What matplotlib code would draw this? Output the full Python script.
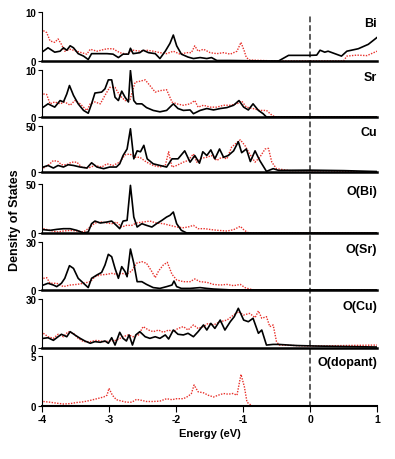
import matplotlib
matplotlib.use("Agg")
import matplotlib.pyplot as plt
from matplotlib.patches import ConnectionPatch

plt.rcParams['font.family'] = ['Liberation Sans Narrow', 'Liberation Sans', 'DejaVu Sans']
plt.rcParams['font.weight'] = 'bold'

#---------- datos ----------#
bi_k_e = [-3.98,-3.91,-3.81,-3.73,-3.68,-3.63,-3.58,-3.53,-3.46,-3.38,-3.31,-3.26,-3.03,-2.94,-2.86,-2.79,-2.71,-2.68,-2.64,-2.54,
          -2.49,-2.41,-2.31,-2.24,-2.16,-2.09,-2.04,-1.99,-1.92,-1.82,-1.74,-1.64,-1.54,-1.47,-1.39,-1.2,-0.9,-0.6,-0.47,-0.32,
          -0.1,0.0,0.1,0.15,0.22,0.27,0.35,0.47,0.55,0.72,0.87,1.0]
bi_k = [2.0,2.7,1.8,2.0,2.7,2.2,3.1,2.7,1.5,1.0,0.3,1.5,1.5,1.4,0.7,1.4,1.4,2.6,1.5,1.7,
        2.2,1.7,1.5,0.5,2.0,3.6,5.3,3.1,1.4,0.8,0.5,0.7,0.5,0.7,0.1,0.1,0.05,0.0,0.0,1.15,
        1.15,1.15,1.2,2.2,1.8,2.0,1.6,1.0,2.0,2.5,3.4,4.8]
bi_r_e = [-3.98,-3.93,-3.88,-3.81,-3.76,-3.71,-3.66,-3.58,-3.48,-3.41,-3.33,-3.28,-3.18,-3.03,-2.94,-2.84,-2.74,-2.64,-2.54,-2.44,
          -2.34,-2.24,-2.14,-2.04,-1.94,-1.84,-1.77,-1.72,-1.67,-1.59,-1.49,-1.39,-1.29,-1.19,-1.09,-1.03,-0.98,-0.95,-0.90,-0.5,
          0.5,0.55,0.7,0.85,1.0]
bi_r = [6.2,5.8,4.1,3.8,4.5,3.4,2.0,2.4,2.0,1.7,1.4,2.4,2.0,2.5,2.5,1.7,1.4,2.2,2.0,2.2,
        2.0,1.7,1.5,2.0,1.4,1.7,1.7,3.1,2.0,2.4,1.7,1.5,1.7,1.4,2.0,3.8,2.0,0.7,0.2,0.0,
        0.0,1.0,1.2,1.1,2.0]

sr_k_e = [-3.98,-3.91,-3.81,-3.73,-3.68,-3.63,-3.59,-3.53,-3.46,-3.38,-3.31,-3.26,-3.21,-3.11,-3.06,-3.01,-2.96,-2.91,-2.86,-2.81,
          -2.76,-2.71,-2.68,-2.63,-2.59,-2.51,-2.44,-2.34,-2.24,-2.14,-2.04,-1.97,-1.89,-1.79,-1.74,-1.64,-1.54,-1.44,-1.34,-1.24,
          -1.14,-1.06,-0.99,-0.92,-0.85,-0.77,-0.70,-0.65,1.0]
sr_k = [2.1,2.8,2.1,3.5,3.2,4.9,6.7,4.6,2.8,1.4,0.8,2.8,5.1,5.3,6.0,7.9,7.9,4.2,3.5,5.5,
        4.2,3.2,9.9,3.5,2.8,2.8,2.0,1.4,1.1,1.4,2.8,1.8,1.4,1.5,0.7,1.4,1.8,1.5,1.8,2.0,
        2.5,3.5,2.1,1.5,2.8,1.4,0.7,0.0,0.0]
sr_r_e = [-3.98,-3.93,-3.88,-3.81,-3.73,-3.66,-3.58,-3.51,-3.43,-3.33,-3.28,-3.21,-3.13,-3.06,-2.99,-2.91,-2.84,-2.76,-2.69,-2.61,
          -2.54,-2.46,-2.39,-2.31,-2.24,-2.14,-2.06,-1.99,-1.89,-1.79,-1.72,-1.67,-1.59,-1.49,-1.39,-1.29,-1.19,-1.09,-1.02,-0.95,
          -0.85,-0.75,-0.65,-0.57,-0.52,1.0]
sr_r = [4.9,4.8,2.8,3.2,2.8,3.2,2.5,3.5,2.8,1.4,2.8,3.2,2.8,4.6,6.3,6.3,4.6,3.5,3.5,7.4,
        7.6,7.9,6.7,5.3,5.6,5.8,3.2,2.8,2.5,2.8,3.5,2.1,2.5,2.1,2.1,2.5,2.5,2.8,3.4,2.1,
        1.8,1.4,1.4,0.4,0.0,0.0]

cu_k_e = [-3.98,-3.91,-3.83,-3.76,-3.68,-3.61,-3.53,-3.43,-3.33,-3.26,-3.18,-3.08,-2.99,-2.89,-2.84,-2.79,-2.73,-2.68,-2.63,-2.58,
          -2.53,-2.48,-2.43,-2.34,-2.24,-2.14,-2.06,-1.97,-1.87,-1.79,-1.72,-1.65,-1.60,-1.54,-1.48,-1.42,-1.35,-1.29,-1.22,-1.14,
          -1.07,-1.02,-0.95,-0.89,-0.82,-0.75,-0.65,-0.55,-0.47,0.0,0.5,1.0]
cu_k = [5.4,7.1,4.3,7.1,5.4,7.9,7.1,5.4,4.3,10,5.4,3.6,5.4,5.4,8.9,17.9,25,47,14.3,23,
        22,29,14.3,8.9,7.1,5.4,14.3,14.3,23,10.7,17.9,9.6,22,17.9,24,14.3,25,16,17.9,23,
        33,21,25,11.4,23,12.5,0.7,3.6,1.8,2.0,1.5,0.5]
cu_r_e = [-3.98,-3.91,-3.83,-3.76,-3.71,-3.63,-3.56,-3.48,-3.41,-3.31,-3.21,-3.11,-3.03,-2.94,-2.84,-2.76,-2.69,-2.61,-2.54,-2.44,
          -2.34,-2.24,-2.16,-2.11,-2.06,-1.99,-1.89,-1.82,-1.74,-1.69,-1.62,-1.54,-1.47,-1.39,-1.32,-1.24,-1.17,-1.09,-1.04,-0.97,
          -0.90,-0.82,-0.75,-0.67,-0.62,-0.57,-0.50,-0.3,0.3,0.6,1.0]
cu_r = [4.3,7.1,12.5,11.4,7.9,7.9,10.7,10.7,5.4,4.3,7.1,5.4,8.9,7.1,10.7,18.6,19.6,16,16,10.7,
        7.1,5.4,7.1,22,5.4,7.1,10.7,12.5,19.6,10.7,15,16,17.9,12.5,16,14.3,27,32,35,28.6,
        19.6,10.7,16,25,25.7,10.7,3.6,1.5,1.2,0.5,0.0]

obi_k_e = [-3.98,-3.88,-3.78,-3.68,-3.58,-3.48,-3.38,-3.31,-3.26,-3.21,-3.13,-3.03,-2.96,-2.89,-2.84,-2.79,-2.73,-2.68,-2.63,-2.58,
           -2.51,-2.44,-2.36,-2.29,-2.21,-2.14,-2.09,-2.04,-1.99,-1.92,-1.84,1.0]
obi_k = [3.4,2.7,3.7,4.4,4.4,2.7,0,1,9.5,12.2,10.2,11.2,12.2,7.8,4.4,12.2,12.9,48.6,16.3,6.1,
         9.5,7.8,6.1,9.5,12.9,16.3,18,21.4,9.5,2.7,0,0]
obi_r_e = [-3.98,-3.88,-3.78,-3.68,-3.58,-3.48,-3.38,-3.28,-3.21,-3.11,-3.03,-2.96,-2.89,-2.81,-2.74,-2.66,-2.59,-2.49,-2.39,-2.29,
           -2.19,-2.09,-1.99,-1.89,-1.82,-1.74,-1.67,-1.57,-1.47,-1.37,-1.24,-1.14,-1.04,-0.98,-0.92,1.0]
obi_r = [4.4,2.7,1,2,2.7,2,1,6.1,10.2,11.2,10.2,9.5,11.2,6.1,7.8,7.8,10.2,11.2,12.2,10.2,
         9.5,7.8,6.1,5.4,6.1,7.8,4.4,4.4,3.4,2.7,2,3.4,6.8,2.7,0.3,0]

osr_k_e = [-3.98,-3.91,-3.83,-3.78,-3.71,-3.66,-3.59,-3.53,-3.46,-3.38,-3.31,-3.26,-3.18,-3.11,-3.06,-3.01,-2.96,-2.91,-2.86,-2.81,
           -2.76,-2.73,-2.68,-2.63,-2.58,-2.51,-2.44,-2.34,-2.24,-2.14,-2.06,-2.03,-1.99,-1.92,-1.79,-1.64,-1.54,-1.44,-1.2,1.0]
osr_k = [3.1,4.2,3.1,2.1,4.2,7.3,15.2,13.5,7.3,4.2,1.5,7.3,9.4,11,15.6,22.3,20.8,13.5,7.3,14.6,
         11.5,8.3,25.6,16.7,5.2,5.2,3.5,1.5,1,2.1,3.1,5.6,2.1,1,1,1.5,1,0.6,0.1,0]
osr_r_e = [-3.98,-3.93,-3.88,-3.78,-3.68,-3.58,-3.48,-3.38,-3.28,-3.21,-3.13,-3.03,-2.96,-2.89,-2.81,-2.74,-2.66,-2.59,-2.51,-2.44,
           -2.36,-2.31,-2.26,-2.19,-2.13,-2.06,-1.99,-1.89,-1.79,-1.72,-1.64,-1.54,-1.44,-1.34,-1.24,-1.14,-1.04,-0.97,-0.90,-0.82,1.0]
osr_r = [7.3,7.7,4.2,4.2,2.1,3.1,3.5,4.2,5.2,8.3,9.4,9.8,10.4,9.8,10.4,9.8,11.9,16.7,17.7,16.7,
         11.5,7.7,11.9,15.6,17.3,9.8,6.3,5.2,5.2,6.9,5.2,4.8,3.5,3.1,3.5,2.7,3.5,1.5,0.6,0,0]

ocu_k_e = [-3.98,-3.91,-3.83,-3.76,-3.71,-3.63,-3.58,-3.51,-3.43,-3.36,-3.28,-3.21,-3.13,-3.06,-3.01,-2.96,-2.91,-2.84,-2.79,-2.74,
           -2.70,-2.65,-2.60,-2.54,-2.46,-2.39,-2.31,-2.24,-2.16,-2.11,-2.04,-1.97,-1.89,-1.82,-1.74,-1.67,-1.59,-1.54,-1.48,-1.42,
           -1.34,-1.27,-1.19,-1.13,-1.07,-0.99,-0.92,-0.85,-0.77,-0.72,-0.65,-0.55,-0.47,-0.2,0.1,0.4,0.7,1.0]
ocu_k = [5.9,6.3,4.7,6.9,8.4,6.9,10,8,5.9,4.3,2.9,3.9,3.5,4.3,2.9,6.3,1.8,9.6,5.9,4.3,
         8,1.8,8,10,6.9,5.9,6.9,5.9,8,5.5,11,8.4,8,9,6.9,10,14.1,11,15.1,12,
         17.1,11,16.1,19.2,24.3,17.1,16.1,18.2,9,11,1.8,2.2,2.2,1.5,1.2,1.0,0.8,0.6]
ocu_r_e = [-3.98,-3.91,-3.83,-3.76,-3.68,-3.61,-3.53,-3.46,-3.38,-3.28,-3.18,-3.08,-2.99,-2.89,-2.79,-2.71,-2.64,-2.56,-2.49,-2.41,
           -2.34,-2.26,-2.19,-2.11,-2.04,-1.97,-1.89,-1.82,-1.74,-1.67,-1.59,-1.52,-1.44,-1.34,-1.24,-1.14,-1.07,-0.99,-0.90,-0.82,
           -0.77,-0.72,-0.65,-0.60,-0.55,-0.50,-0.46,0.0,0.5,1.0]
ocu_r = [9,6.9,5.9,8.4,6.9,10,9,5.9,3.9,3.9,4.7,3.9,4.3,4.7,6.9,8,6.9,8,13.1,11,
         10,11,9.6,11,10,12,13.1,11,14.1,12,13.1,15.1,14.1,16.1,17.1,20.2,22.2,20.2,21.2,18.6,
         22.7,18.2,19.2,13.1,14.1,3.9,1.8,1.2,1.5,1.8]

odop_r_e = [-3.98,-3.88,-3.78,-3.68,-3.58,-3.48,-3.38,-3.28,-3.18,-3.08,-3.03,-3.00,-2.95,-2.89,-2.81,-2.74,-2.66,-2.59,-2.51,-2.44,
            -2.34,-2.24,-2.14,-2.06,-1.99,-1.89,-1.82,-1.77,-1.73,-1.67,-1.59,-1.52,-1.44,-1.37,-1.29,-1.22,-1.15,-1.09,-1.03,-0.98,
            -0.94,-0.87,-0.75]
odop_r = [0.45,0.38,0.28,0.2,0.24,0.35,0.42,0.56,0.73,0.9,1.08,1.77,1.08,0.63,0.49,0.38,0.38,0.66,0.56,0.45,
          0.45,0.49,0.73,0.63,0.73,0.73,0.97,1.25,2.1,1.42,1.32,1.08,0.9,1.08,1.25,1.18,1.25,1.08,3.16,1.94,
          0.38,0.03,0.0]

nombres = ['Bi', 'Sr', 'Cu', 'O(Bi)', 'O(Sr)', 'O(Cu)', 'O(dopant)']
ytops = [10, 10, 50, 50, 30, 30, 5]
negras = [(bi_k_e, bi_k), (sr_k_e, sr_k), (cu_k_e, cu_k), (obi_k_e, obi_k), (osr_k_e, osr_k), (ocu_k_e, ocu_k), None]
rojas = [(bi_r_e, bi_r), (sr_r_e, sr_r), (cu_r_e, cu_r), (obi_r_e, obi_r), (osr_r_e, osr_r), (ocu_r_e, ocu_r), (odop_r_e, odop_r)]
xticks = [-4, -3, -2, -1, 0, 1]

#---------- figura ----------#
W, H = 395, 460
fig = plt.figure(figsize=(W/100, H/100), dpi=100)
# (arriba, abajo) de cada panel en pixeles
paneles = [(13, 62), (71, 118), (127, 173), (185, 234), (243, 291), (300, 349), (357, 407)]
y_etiqueta = [0.78, 0.86, 0.86, 0.86, 0.86, 0.86, 0.88]
x0, x1 = 42, 377
rojo = '#e8302a'

axes = []
for i, (t, b) in enumerate(paneles):
    ax = fig.add_axes([x0/W, 1 - b/H, (x1 - x0)/W, (b - t)/H])
    if rojas[i] is not None:
        ax.plot(rojas[i][0], rojas[i][1], color=rojo, lw=1.0, ls=(0, (1, 1)))
    if negras[i] is not None:
        ax.plot(negras[i][0], negras[i][1], color='black', lw=1.2)
    ax.set_xlim(-4, 1)
    ax.set_ylim(0, ytops[i])
    for s in ['top', 'right']:
        ax.spines[s].set_visible(False)
    ax.spines['left'].set_linewidth(0.8)
    ax.spines['bottom'].set_linewidth(1.8)
    ax.set_yticks([0, ytops[i]])
    ax.set_yticklabels(['0', str(ytops[i])], fontsize=7, fontweight='bold')
    ax.tick_params(axis='y', length=3, width=0.8, pad=1)
    ax.text(1.0, y_etiqueta[i], nombres[i], transform=ax.transAxes, ha='right', va='center',
            fontsize=9, fontweight='bold')
    if i < len(paneles) - 1:
        ax.set_xticks([])
    else:
        ax.set_xticks(xticks)
        ax.set_xticklabels([str(v) for v in xticks], fontsize=7.5, fontweight='bold')
        ax.tick_params(axis='x', length=4, width=0.8, pad=2)
        ax.spines['bottom'].set_linewidth(1.5)
    ax.patch.set_alpha(0)
    axes.append(ax)

# linea del nivel de Fermi
con = ConnectionPatch(xyA=(0, 9.0), coordsA=axes[0].transData,
                      xyB=(0, 0), coordsB=axes[-1].transData,
                      color='black', lw=0.9, ls=(0, (4, 3)))
fig.add_artist(con)

fig.text(15/W, 1 - 220/H, 'Density of States', rotation=90, ha='center', va='center',
         fontsize=9, fontweight='bold')
fig.text((x0 + x1)/2/W, 1 - 434/H, 'Energy (eV)', ha='center', va='center',
         fontsize=8, fontweight='bold')

fig.savefig('out.png', dpi=100)
